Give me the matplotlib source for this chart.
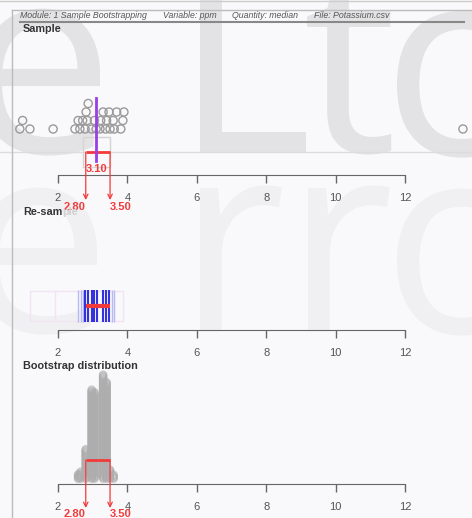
import numpy as np
import matplotlib.pyplot as plt
from matplotlib.lines import Line2D
from matplotlib.patches import Rectangle, PathPatch
from matplotlib.textpath import TextPath
from matplotlib.font_manager import FontProperties
from matplotlib.transforms import Affine2D

# original sample (ppm)
sample_ppm = [0.90, 0.98, 1.19, 1.86, 2.49, 2.58, 2.63, 2.71, 2.78, 2.81, 2.84, 2.87,
              2.97, 3.05, 3.10, 3.21, 3.23, 3.30, 3.37, 3.40, 3.47, 3.50, 3.59, 3.62,
              3.69, 3.81, 3.87, 3.90, 13.67]
# re-sample medians shown in the middle panel
recent_medians = [2.78, 2.87, 2.97, 3.04, 3.12, 3.31, 3.38, 3.48]
older_medians = [2.58, 2.65, 2.71, 3.55, 3.61]
# bootstrap distribution of medians (value, number of re-samples)
boot_values = [2.58, 2.65, 2.80, 2.97, 3.05, 3.30, 3.40, 3.50, 3.60]
boot_counts = [11, 16, 61, 180, 175, 210, 195, 20, 10]
ci_lower, ci_upper = 2.80, 3.50
ticks = [2, 4, 6, 8, 10, 12]

W, H = 472, 518
RED = '#f23a3a'
GREY_TXT = '#555555'
plt.rcParams['font.family'] = ['Liberation Sans', 'DejaVu Sans']

fig = plt.figure(figsize=(W / 100, H / 100), dpi=100, facecolor='#f9f9fb')

# watermark letters behind everything (placed by their ink edges, in pixels)
fp = FontProperties(family='Open Sans', weight='normal')
to_fig = Affine2D().scale(1 / W, 1 / H) + fig.transFigure
for ch, x, base, side, col in [('e', 100, 153, 'right', '#e3e3e5'),
                               ('L', 200, 152, 'left', '#e3e3e5'),
                               ('t', 307, 152, 'left', '#e3e3e5'),
                               ('c', 397, 155, 'left', '#e3e3e5'),
                               ('e', 97, 332, 'right', '#f0f0f2'),
                               ('r', 200, 330, 'left', '#f0f0f2'),
                               ('r', 308, 330, 'left', '#f0f0f2'),
                               ('o', 397, 333, 'left', '#f0f0f2')]:
    p = TextPath((0, 0), ch, size=265, prop=fp)
    ext = p.get_extents()
    dx = x - (ext.x0 if side == 'left' else ext.x1)
    p = p.transformed(Affine2D().translate(dx, H - base))
    fig.add_artist(PathPatch(p, fc=col, ec='none', transform=to_fig, zorder=-5))


def fline(x0, x1, y0, y1, **kw):
    fig.add_artist(Line2D([x0 / W, x1 / W], [1 - y0 / H, 1 - y1 / H],
                          transform=fig.transFigure, **kw))


# frame and header
fline(0, W, 1, 1, color='#cccccc', lw=1)
fline(12, W, 10, 10, color='#bbbbbb', lw=1)
fline(12, 12, 10, H, color='#bbbbbb', lw=1)
fline(20, 464, 22, 22, color='#888888', lw=1.5)
for txt, x in [('Module: 1 Sample Bootstrapping', 20), ('Variable: ppm', 163),
               ('Quantity: median', 232), ('File: Potassium.csv', 314)]:
    fig.text(x / W, 1 - 16 / H, txt, style='italic', size=6.3, color=GREY_TXT, va='center')

XMIN = 2 - 58 / 34.7
XMAX = XMIN + W / 34.7


def panel(top_px, axis_px, title):
    ax = fig.add_axes([0, 1 - axis_px / H, 1, (axis_px - top_px) / H])
    ax.set_xlim(XMIN, XMAX)
    ax.set_ylim(0, axis_px - top_px)
    ax.patch.set_visible(False)
    for s in ['top', 'left', 'right']:
        ax.spines[s].set_visible(False)
    ax.spines['bottom'].set_bounds(2, 12)
    ax.spines['bottom'].set_color('#666666')
    ax.set_xticks(ticks)
    ax.set_yticks([])
    ax.tick_params(axis='x', length=6, width=1, color='#666666', labelcolor=GREY_TXT,
                   labelsize=8, pad=7)
    t = fig.text(23 / W, 1 - top_px / H, title, weight='bold', size=7.8, color='#333333',
                 va='center')
    return ax, t


def ci_arrows(ax, y_top, y_end, y_lab):
    ax.plot([ci_lower, ci_upper], [y_top, y_top], color=RED, lw=2, solid_capstyle='butt')
    for x in (ci_lower, ci_upper):
        ax.annotate('', xy=(x, y_end), xytext=(x, y_top), annotation_clip=False,
                    arrowprops=dict(arrowstyle='->', color=RED, lw=0.9, mutation_scale=8,
                                    shrinkA=0, shrinkB=0))
    ax.text(ci_lower, y_lab, f'{ci_lower:.2f}', ha='right', va='center', color=RED,
            weight='bold', size=8, clip_on=False)
    ax.text(ci_upper, y_lab, f'{ci_upper:.2f}', ha='left', va='center', color=RED,
            weight='bold', size=8, clip_on=False)


# ---- Sample panel
ax1, _ = panel(29, 175, 'Sample')
ax1.axhline(23, color='#dcdcdc', lw=1, zorder=0)
vals = np.sort(np.array(sample_ppm))
levels = []
placed = {}
for v in vals:
    lev = 0
    while any(abs(v - p) < 0.105 for p in placed.get(lev, [])):
        lev += 1
    placed.setdefault(lev, []).append(v)
    levels.append(lev)
ax1.scatter(vals, 46 + 8.5 * np.array(levels), s=34, facecolors='none',
            edgecolors='#9a9a9a', linewidths=1, clip_on=False, zorder=3)
q1, q3 = np.percentile(vals, [25, 75])
ax1.add_patch(Rectangle((q1, 8), q3 - q1, 30, fill=False, ec='#d4d4d4', lw=1))
med = np.median(vals)
ci_arrows(ax1, 23, -25, -32)
ax1.plot([med, med], [14, 77], color='#9a3ee8', lw=2, zorder=4)
ax1.text(med, 6, f'{med:.2f}', ha='center', va='center', color=RED, weight='bold', size=8)

# ---- Re-sample panel
ax2, t2 = panel(212, 330, 'Re-sam')
ax2.annotate('ple', xy=(1, 0.5), xycoords=t2, va='center', ha='left', weight='bold',
             size=7.8, color='#d0d0d0')
ax2.add_patch(Rectangle((1.19, 9), 3.87 - 1.19, 30, fill=False, ec='#f2e4f2', lw=1))
ax2.plot([1.91, 1.91], [9, 39], color='#f2e4f2', lw=1)
ax2.vlines(older_medians, 8, 40, color='#b8b8f4', lw=1)
ax2.vlines(recent_medians, 8, 40, color='#3333dd', lw=1.5)
ax2.plot([ci_lower, ci_upper], [24, 24], color=RED, lw=3, solid_capstyle='butt')

# ---- Bootstrap distribution panel
ax3, _ = panel(366, 484, 'Bootstrap distribution')
bx, by = [], []
for v, c in zip(boot_values, boot_counts):
    bx += [v] * c
    by += list(5 + 0.5 * np.arange(c))
ax3.scatter(bx, by, s=26, facecolors='none', edgecolors='#adadad', linewidths=1,
            alpha=0.35, clip_on=False, zorder=2)
ci_arrows(ax3, 24, -24, -30)

plt.savefig('out.png', dpi=100, facecolor=fig.get_facecolor())
